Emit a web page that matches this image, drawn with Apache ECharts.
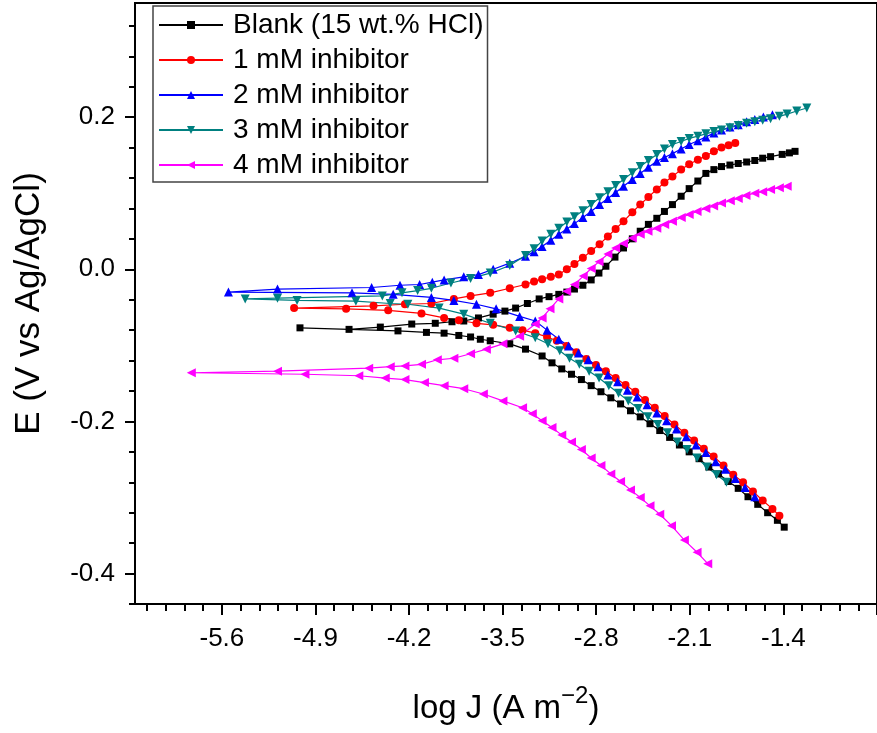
<!DOCTYPE html>
<html>
<head>
<meta charset="utf-8">
<script src="https://cdn.jsdelivr.net/npm/echarts@6/dist/echarts.min.js"></script>
<style>
html,body{margin:0;padding:0;background:#fff;}
#chart{width:877px;height:733px;}
</style>
</head>
<body>
<div id="chart"></div>
<script>
// ---- data: [log J, E] in scan order (cathodic -> Ecorr -> anodic) ----
var seriesNames = ['Blank (15 wt.% HCl)', '1 mM inhibitor', '2 mM inhibitor', '3 mM inhibitor', '4 mM inhibitor'];

var blankData = [
[-1.394,-0.339],[-1.445,-0.330],[-1.518,-0.320],[-1.592,-0.309],[-1.665,-0.299],[-1.738,-0.288],[-1.812,-0.279],[-1.885,-0.269],[-1.958,-0.260],[-2.031,-0.249],[-2.105,-0.240],[-2.178,-0.231],[-2.251,-0.221],[-2.325,-0.212],[-2.398,-0.203],[-2.471,-0.194],[-2.544,-0.186],[-2.618,-0.177],[-2.691,-0.169],[-2.765,-0.161],[-2.838,-0.153],[-2.911,-0.145],[-2.985,-0.138],[-3.058,-0.131],[-3.131,-0.123],[-3.205,-0.114],[-3.329,-0.105],[-3.447,-0.098],[-3.593,-0.094],[-3.667,-0.092],[-3.740,-0.089],[-3.828,-0.087],[-3.938,-0.084],[-4.070,-0.083],[-4.283,-0.081],[-5.016,-0.077],
[-4.649,-0.079],[-4.415,-0.076],[-4.180,-0.072],[-4.004,-0.071],[-3.879,-0.069],[-3.791,-0.068],[-3.681,-0.064],[-3.571,-0.059],[-3.483,-0.055],[-3.403,-0.051],[-3.315,-0.045],[-3.227,-0.039],[-3.153,-0.036],[-3.080,-0.033],[-3.020,-0.030],[-2.963,-0.026],[-2.900,-0.021],[-2.838,-0.014],[-2.780,-0.005],[-2.728,0.004],[-2.660,0.016],[-2.596,0.028],[-2.530,0.040],[-2.471,0.050],[-2.410,0.059],[-2.347,0.067],[-2.290,0.076],[-2.230,0.085],[-2.165,0.096],[-2.105,0.106],[-2.040,0.116],[-1.980,0.126],[-1.920,0.131],[-1.863,0.135],[-1.800,0.137],[-1.738,0.139],[-1.675,0.141],[-1.614,0.143],[-1.555,0.146],[-1.496,0.148],[-1.409,0.151],[-1.355,0.153],[-1.313,0.155]
];

var mM1Data = [
[-1.430,-0.324],[-1.482,-0.315],[-1.555,-0.304],[-1.628,-0.292],[-1.702,-0.280],[-1.775,-0.270],[-1.848,-0.258],[-1.922,-0.246],[-1.995,-0.236],[-2.068,-0.225],[-2.141,-0.215],[-2.215,-0.204],[-2.288,-0.193],[-2.362,-0.182],[-2.435,-0.172],[-2.508,-0.161],[-2.581,-0.152],[-2.655,-0.143],[-2.728,-0.134],[-2.802,-0.126],[-2.874,-0.118],[-2.948,-0.109],[-3.021,-0.101],[-3.095,-0.094],[-3.168,-0.089],[-3.256,-0.084],[-3.351,-0.080],[-3.447,-0.077],[-3.571,-0.073],[-3.696,-0.071],[-3.828,-0.067],[-3.938,-0.064],[-4.107,-0.058],[-4.356,-0.054],[-4.671,-0.052],[-5.060,-0.051],
[-4.466,-0.048],[-4.231,-0.046],[-4.033,-0.045],[-3.865,-0.039],[-3.740,-0.035],[-3.593,-0.031],[-3.447,-0.025],[-3.329,-0.020],[-3.265,-0.016],[-3.205,-0.013],[-3.140,-0.010],[-3.080,-0.007],[-3.020,0.000],[-2.963,0.007],[-2.900,0.015],[-2.838,0.024],[-2.775,0.033],[-2.713,0.043],[-2.655,0.053],[-2.596,0.063],[-2.530,0.075],[-2.471,0.085],[-2.410,0.095],[-2.347,0.105],[-2.290,0.114],[-2.230,0.122],[-2.165,0.131],[-2.105,0.138],[-2.040,0.144],[-1.980,0.149],[-1.920,0.155],[-1.863,0.160],[-1.810,0.163],[-1.760,0.166]
];

var mM2Data = [
[-1.614,-0.299],[-1.687,-0.287],[-1.760,-0.275],[-1.834,-0.263],[-1.907,-0.253],[-1.980,-0.241],[-2.054,-0.231],[-2.127,-0.220],[-2.200,-0.210],[-2.274,-0.199],[-2.347,-0.189],[-2.420,-0.178],[-2.494,-0.168],[-2.567,-0.159],[-2.640,-0.148],[-2.713,-0.139],[-2.787,-0.128],[-2.860,-0.119],[-2.933,-0.110],[-3.007,-0.101],[-3.080,-0.092],[-3.168,-0.080],[-3.256,-0.068],[-3.373,-0.062],[-3.549,-0.052],[-3.696,-0.046],[-3.865,-0.041],[-4.033,-0.037],[-4.319,-0.033],[-4.627,-0.031],[-5.551,-0.030],
[-5.184,-0.026],[-4.480,-0.024],[-4.268,-0.021],[-4.121,-0.020],[-4.026,-0.017],[-3.938,-0.014],[-3.791,-0.010],[-3.681,-0.007],[-3.571,0.000],[-3.447,0.008],[-3.329,0.017],[-3.265,0.023],[-3.205,0.030],[-3.140,0.038],[-3.080,0.046],[-3.020,0.053],[-2.963,0.060],[-2.900,0.068],[-2.838,0.076],[-2.775,0.085],[-2.713,0.093],[-2.655,0.101],[-2.596,0.109],[-2.530,0.118],[-2.471,0.126],[-2.410,0.134],[-2.347,0.142],[-2.290,0.147],[-2.230,0.152],[-2.165,0.158],[-2.105,0.164],[-2.040,0.169],[-1.980,0.174],[-1.920,0.179],[-1.863,0.183],[-1.800,0.187],[-1.738,0.190],[-1.675,0.194],[-1.614,0.197],[-1.550,0.200],[-1.482,0.203]
];

var mM3Data = [
[-1.826,-0.280],[-1.900,-0.270],[-1.973,-0.260],[-2.046,-0.248],[-2.120,-0.237],[-2.193,-0.227],[-2.266,-0.215],[-2.340,-0.204],[-2.413,-0.194],[-2.486,-0.183],[-2.560,-0.173],[-2.633,-0.163],[-2.706,-0.153],[-2.779,-0.143],[-2.853,-0.134],[-2.926,-0.125],[-3.000,-0.117],[-3.073,-0.107],[-3.161,-0.098],[-3.256,-0.090],[-3.403,-0.081],[-3.593,-0.071],[-3.791,-0.059],[-3.975,-0.051],[-4.209,-0.046],[-4.341,-0.045],[-4.598,-0.042],[-5.038,-0.041],[-5.426,-0.039],
[-5.184,-0.038],[-4.400,-0.035],[-4.253,-0.031],[-4.136,-0.028],[-4.033,-0.025],[-3.887,-0.018],[-3.740,-0.012],[-3.593,-0.005],[-3.447,0.005],[-3.329,0.018],[-3.265,0.027],[-3.205,0.037],[-3.140,0.046],[-3.080,0.054],[-3.020,0.062],[-2.963,0.069],[-2.900,0.077],[-2.838,0.085],[-2.775,0.094],[-2.713,0.102],[-2.655,0.110],[-2.596,0.118],[-2.530,0.127],[-2.471,0.135],[-2.410,0.143],[-2.347,0.151],[-2.290,0.158],[-2.230,0.164],[-2.165,0.168],[-2.105,0.172],[-2.040,0.175],[-1.980,0.178],[-1.920,0.181],[-1.863,0.183],[-1.800,0.186],[-1.738,0.189],[-1.675,0.192],[-1.614,0.194],[-1.555,0.196],[-1.496,0.198],[-1.430,0.201],[-1.372,0.204],[-1.300,0.208],[-1.225,0.212]
];

var mM4Data = [
[-1.966,-0.387],[-2.046,-0.372],[-2.141,-0.356],[-2.237,-0.337],[-2.325,-0.322],[-2.398,-0.311],[-2.471,-0.300],[-2.544,-0.290],[-2.618,-0.279],[-2.691,-0.269],[-2.765,-0.258],[-2.838,-0.248],[-2.911,-0.237],[-2.985,-0.227],[-3.058,-0.218],[-3.131,-0.208],[-3.205,-0.199],[-3.278,-0.190],[-3.351,-0.182],[-3.498,-0.173],[-3.644,-0.164],[-3.791,-0.157],[-3.938,-0.153],[-4.085,-0.149],[-4.231,-0.145],[-4.378,-0.143],[-4.576,-0.140],[-4.979,-0.138],[-5.829,-0.136],
[-5.184,-0.134],[-4.502,-0.130],[-4.341,-0.128],[-4.231,-0.127],[-4.107,-0.125],[-3.989,-0.119],[-3.865,-0.117],[-3.740,-0.111],[-3.622,-0.105],[-3.498,-0.098],[-3.373,-0.088],[-3.256,-0.072],[-3.205,-0.064],[-3.146,-0.052],[-3.080,-0.039],[-3.021,-0.029],[-2.963,-0.020],[-2.897,-0.009],[-2.838,0.001],[-2.779,0.010],[-2.713,0.020],[-2.655,0.028],[-2.596,0.034],[-2.530,0.041],[-2.471,0.046],[-2.413,0.050],[-2.347,0.054],[-2.288,0.059],[-2.230,0.063],[-2.164,0.068],[-2.105,0.072],[-2.046,0.076],[-1.980,0.080],[-1.922,0.083],[-1.863,0.087],[-1.797,0.090],[-1.738,0.093],[-1.680,0.097],[-1.614,0.100],[-1.555,0.102],[-1.496,0.105],[-1.430,0.107],[-1.372,0.109]
];

// ---- ticks ----
var xMajorTicks = [-5.6, -4.9, -4.2, -3.5, -2.8, -2.1, -1.4, -0.7];
var xTickLabels = [-5.6, -4.9, -4.2, -3.5, -2.8, -2.1, -1.4];
var xMinorTicks = [-6.16,-6.02,-5.88,-5.74,-5.46,-5.32,-5.18,-5.04,-4.76,-4.62,-4.48,-4.34,-4.06,-3.92,-3.78,-3.64,-3.36,-3.22,-3.08,-2.94,-2.66,-2.52,-2.38,-2.24,-1.96,-1.82,-1.68,-1.54,-1.26,-1.12,-0.98,-0.84];
var yTickLabels = [-0.4, -0.2, 0.0, 0.2];
var yMinorTicks = [-0.44,-0.36,-0.32,-0.28,-0.24,-0.16,-0.12,-0.08,-0.04,0.04,0.08,0.12,0.16,0.24,0.28,0.32];

var colors = ['#000000', '#ff0000', '#0000ff', '#008080', '#ff00ff'];
var symbols = ['rect', 'circle', 'triangle', 'triangle', 'triangle'];
var symbolRotates = [0, 0, 0, 180, 90];
var symbolSizes = [7, 8, 9, 9, 9];
var allData = [blankData, mM1Data, mM2Data, mM3Data, mM4Data];

var FONT = "'Liberation Sans', Arial, sans-serif";
var XMIN = -6.25, XMAX = -0.7, YMIN = -0.44, YMAX = 0.35;

var chart = echarts.init(document.getElementById('chart'), null, {renderer: 'canvas'});

var series = allData.map(function (d, i) {
  return {
    name: seriesNames[i],
    type: 'line',
    data: d,
    xAxisIndex: 0,
    yAxisIndex: 0,
    symbol: symbols[i],
    symbolRotate: symbolRotates[i],
    symbolSize: symbolSizes[i],
    showSymbol: true,
    showAllSymbol: true,
    color: colors[i],
    lineStyle: {color: colors[i], width: 1.2},
    itemStyle: {color: colors[i], borderWidth: 0},
    emphasis: {disabled: true},
    animation: false
  };
});

var option = {
  animation: false,
  backgroundColor: '#ffffff',
  textStyle: {fontFamily: FONT},
  grid: {
    left: 135, top: 3, right: -15, bottom: 129,
    show: true, borderColor: '#000', borderWidth: 2, backgroundColor: 'transparent',
    containLabel: false
  },
  legend: {
    show: true,
    orient: 'vertical',
    left: 153, top: 6,
    padding: [5, 4, 3, 5],
    itemWidth: 64, itemHeight: 10, itemGap: 7,
    borderColor: '#444', borderWidth: 1.5,
    backgroundColor: '#fff',
    data: seriesNames,
    textStyle: {fontSize: 28, fontFamily: FONT, color: '#000', lineHeight: 28, padding: [0, 0, 0, 5]}
  },
  xAxis: [
    {
      type: 'value', min: XMIN, max: XMAX, position: 'bottom',
      axisLine: {show: true, onZero: false, lineStyle: {color: '#000', width: 2}},
      axisTick: {show: true, inside: false, length: 11, lineStyle: {color: '#000', width: 2}, customValues: xMajorTicks},
      axisLabel: {show: true, customValues: xTickLabels, margin: 22, fontSize: 26, fontFamily: FONT, color: '#000',
        formatter: function (v) { return v.toFixed(1); }},
      splitLine: {show: false},
      name: 'log J (A m{sup|−2})',
      nameLocation: 'middle', nameGap: 80,
      nameTextStyle: {fontSize: 33, fontFamily: FONT, color: '#000',
        rich: {sup: {fontSize: 24, fontFamily: FONT, color: '#000', padding: [0, 0, 26, 0]}}}
    },
    {
      type: 'value', min: XMIN, max: XMAX, position: 'bottom', gridIndex: 0,
      axisLine: {show: false, onZero: false},
      axisTick: {show: true, inside: false, length: 7, lineStyle: {color: '#000', width: 2}, customValues: xMinorTicks},
      axisLabel: {show: false},
      splitLine: {show: false}
    }
  ],
  yAxis: [
    {
      type: 'value', min: YMIN, max: YMAX, position: 'left',
      axisLine: {show: true, onZero: false, lineStyle: {color: '#000', width: 2}},
      axisTick: {show: true, inside: false, length: 10, lineStyle: {color: '#000', width: 2}, customValues: yTickLabels},
      axisLabel: {show: true, customValues: yTickLabels, margin: 20, fontSize: 26, fontFamily: FONT, color: '#000',
        formatter: function (v) { return v.toFixed(1); }},
      splitLine: {show: false},
      name: 'E (V vs Ag/AgCl)',
      nameLocation: 'middle', nameGap: 88, nameRotate: 90,
      nameTextStyle: {fontSize: 35, fontFamily: FONT, color: '#000'}
    },
    {
      type: 'value', min: YMIN, max: YMAX, position: 'left', gridIndex: 0,
      axisLine: {show: false, onZero: false},
      axisTick: {show: true, inside: false, length: 6, lineStyle: {color: '#000', width: 2}, customValues: yMinorTicks},
      axisLabel: {show: false},
      splitLine: {show: false}
    }
  ],
  series: series
};

chart.setOption(option);
</script>
</body>
</html>
